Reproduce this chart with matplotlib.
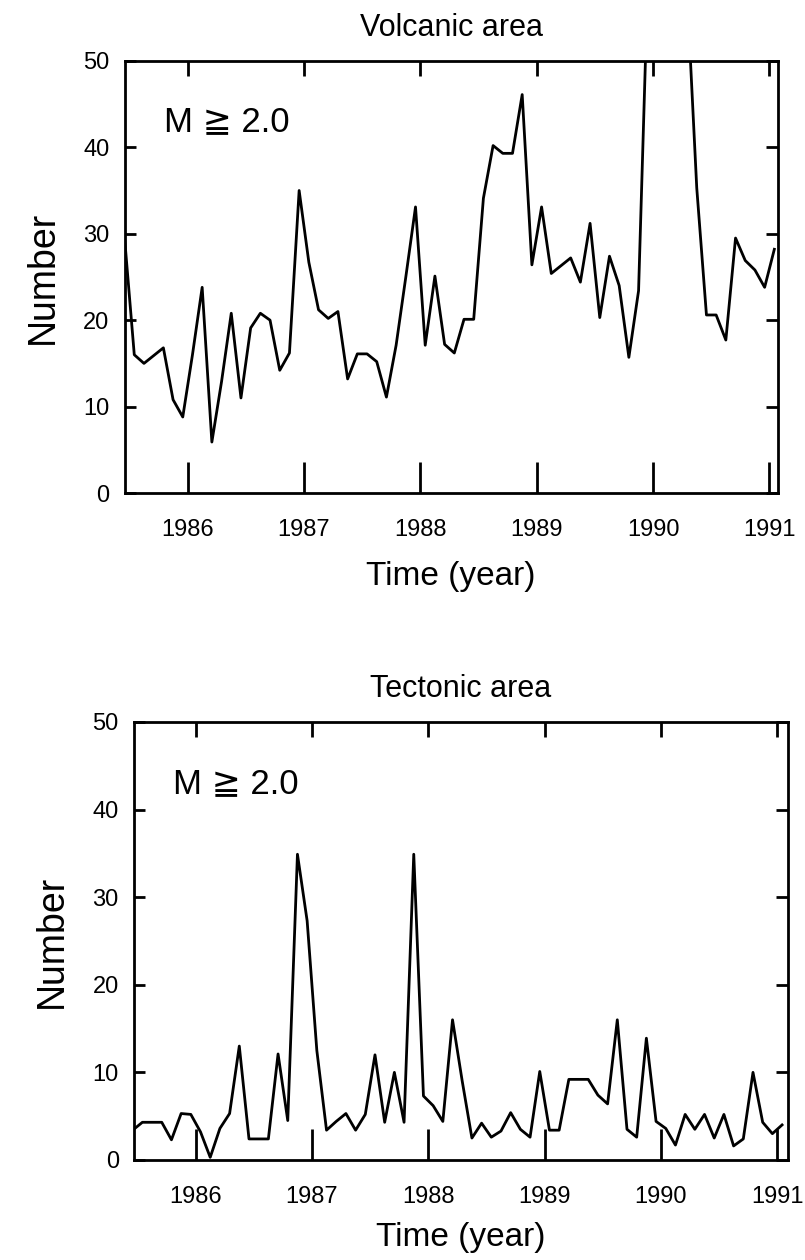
import matplotlib
matplotlib.use('Agg')
import matplotlib.pyplot as plt
import numpy as np
import pandas as pd

plt.rcParams['font.family'] = ['Liberation Sans', 'DejaVu Sans']

# monthly counts, Jun 1985 - Jan 1991
months = pd.period_range('1985-06', '1991-01', freq='M')

volcanic = [29.5, 16.0, 15.0, 15.9, 16.8, 10.8, 8.8, 16.0, 23.8, 5.9,
            12.9, 20.8, 11.0, 19.1, 20.8, 20.0, 14.2, 16.2, 35.0, 26.7,
            21.2, 20.2, 21.0, 13.2, 16.1, 16.1, 15.2, 11.1, 17.1, 25.0,
            33.1, 17.1, 25.1, 17.2, 16.2, 20.1, 20.1, 34.1, 40.2, 39.3,
            39.3, 46.1, 26.4, 33.1, 25.4, 26.3, 27.2, 24.4, 31.2, 20.3,
            27.4, 24.0, 15.7, 23.4, 61.0, 75.0, 85.0, 70.0, 58.0, 35.3,
            20.6, 20.6, 17.7, 29.5, 26.9, 25.8, 23.8, 28.2]

tectonic = [3.4, 4.3, 4.3, 4.3, 2.3, 5.3, 5.2, 3.2, 0.3, 3.6,
            5.3, 13.0, 2.4, 2.4, 2.4, 12.1, 4.5, 34.9, 27.3, 12.5,
            3.4, 4.4, 5.3, 3.4, 5.2, 12.0, 4.3, 10.0, 4.3, 34.9,
            7.3, 6.2, 4.4, 16.0, 9.0, 2.5, 4.2, 2.6, 3.3, 5.4,
            3.5, 2.6, 10.1, 3.4, 3.4, 9.2, 9.2, 9.2, 7.4, 6.4,
            16.0, 3.5, 2.6, 13.9, 4.4, 3.6, 1.7, 5.2, 3.5, 5.2,
            2.5, 5.2, 1.6, 2.4, 10.0, 4.3, 3.0, 4.0]

titles = ['Volcanic area', 'Tectonic area']
year_ticks = [1986, 1987, 1988, 1989, 1990, 1991]
count_ticks = [0, 10, 20, 30, 40, 50]

t = np.array([m.year + (m.month - 0.5) / 12 for m in months])

fig = plt.figure(figsize=(8.05, 12.6), dpi=100)
rects = [[0.155, 0.6087, 0.811, 0.343], [0.1665, 0.0794, 0.812, 0.3476]]
xlims = [(1985.46, 1991.07), (1985.47, 1991.09)]
xpads = [14, 10]

for rect, xl, title, vals, xp in zip(rects, xlims, titles, [volcanic, tectonic], xpads):
    ax = fig.add_axes(rect)
    ax.plot(t, vals, color='black', lw=2.0)
    ax.set_xlim(*xl)
    ax.set_ylim(0, 50)
    for s in ax.spines.values():
        s.set_linewidth(2.0)
    ax.set_xticks(year_ticks)
    ax.set_yticks(count_ticks)
    ax.tick_params(axis='x', direction='in', length=22, width=2.0, pad=19, labelsize=17)
    ax.tick_params(axis='y', direction='in', length=8, width=2.0, pad=11, labelsize=17)
    top = ax.secondary_xaxis('top')
    top.set_xticks(year_ticks)
    top.tick_params(direction='in', length=11, width=2.0, labeltop=False)
    right = ax.secondary_yaxis('right')
    right.set_yticks(count_ticks)
    right.tick_params(direction='in', length=9, width=2.0, labelright=False)
    for s in list(top.spines.values()) + list(right.spines.values()):
        s.set_visible(False)
    ax.set_title(title, fontsize=22, pad=18)
    ax.set_xlabel('Time (year)', fontsize=24, labelpad=xp)
    ax.set_ylabel('Number', fontsize=27, labelpad=16)
    ax.text(0.06, 0.86, 'M ≧ 2.0', transform=ax.transAxes, fontsize=25,
            ha='left', va='center')

fig.savefig('out.png', dpi=100)
